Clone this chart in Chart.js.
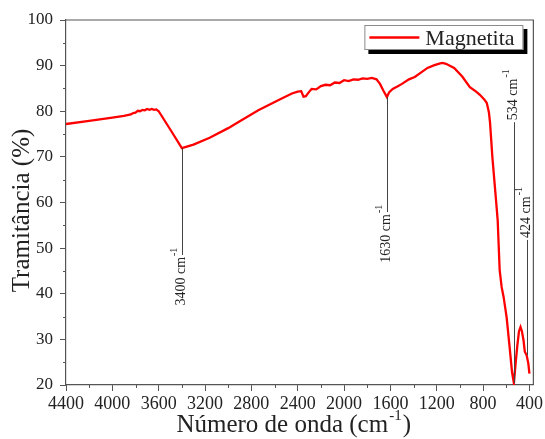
<!DOCTYPE html>
<html>
<head>
<meta charset="utf-8">
<script src="https://cdn.jsdelivr.net/npm/chart.js@4/dist/chart.umd.min.js"></script>
<style>
  html, body { margin: 0; padding: 0; background: #ffffff; }
  #wrap { width: 545px; height: 439px; }
</style>
</head>
<body>
<div id="wrap"><canvas id="ftir" width="545" height="439"></canvas></div>
<script>
// FTIR spectrum of magnetite: wavenumber (cm-1) and transmittance (%)
const wavenumbers = [
  4400, 4200, 4000, 3900, 3860, 3840, 3820, 3800, 3780, 3760, 3740, 3720, 3700, 3680, 3660, 3640, 3620, 3600,
  3500, 3400, 3300, 3160, 3000, 2900, 2740, 2560, 2450, 2400, 2370, 2350, 2330, 2300, 2280, 2240, 2200, 2160,
  2120, 2080, 2040, 2000, 1960, 1920, 1880, 1840, 1800, 1760, 1720, 1690, 1660, 1630, 1610, 1580, 1540, 1500,
  1440, 1390, 1340, 1280, 1220, 1170, 1150, 1120, 1050, 980, 914, 860, 828, 790, 768, 750, 740, 720, 708, 690,
  674, 657, 640, 623, 597, 571, 550, 534, 520, 505, 490, 477, 465, 451, 440, 424, 410, 400
];
const transmittance = [
  77.2, 77.9, 78.6, 79.0, 79.2, 79.3, 79.6, 79.7, 80.1, 80.0, 80.3, 80.2, 80.5, 80.3, 80.5, 80.3, 80.4, 80.0,
  76.0, 71.9, 72.7, 74.2, 76.3, 77.8, 80.2, 82.5, 83.9, 84.3, 84.4, 83.2, 83.3, 84.3, 84.9, 84.8, 85.5, 85.8,
  85.7, 86.3, 86.2, 86.8, 86.6, 87.0, 86.9, 87.2, 87.1, 87.3, 87.0, 86.0, 84.5, 83.1, 84.2, 84.9, 85.4, 86.0,
  87.0, 87.5, 88.4, 89.5, 90.1, 90.5, 90.6, 90.4, 89.5, 87.6, 85.3, 84.3, 83.6, 82.6, 81.8, 79.8, 77.5, 70.0, 66.4, 61.0,
  56.1, 45.2, 41.5, 39.3, 34.9, 28.3, 22.8, 20.4, 24.5, 28.5, 31.8, 32.7, 31.8, 29.8, 27.3, 26.5, 24.8, 22.5
];

// Axis ticks
const xTickValues = [4400, 4000, 3600, 3200, 2800, 2400, 2000, 1600, 1200, 800, 400];
const xTickLabels = ['4400', '4000', '3600', '3200', '2800', '2400', '2000', '1600', '1200', '800', '400'];
const yTickValues = [20, 30, 40, 50, 60, 70, 80, 90, 100];
const yTickLabels = ['20', '30', '40', '50', '60', '70', '80', '90', '100'];

// Marked absorption bands
const bandWavenumbers = [3400, 1630, 534, 424];
const bandTransmittance = [71.9, 83.1, 20.4, 26.5];
const bandLabels = ['3400', '1630', '534', '424'];

const SERIF = "'Liberation Serif', 'Times New Roman', serif";
const AXIS = '#555555';
const INK = '#222222';

// Frame, minor ticks, axis titles, band markers and legend
const decorations = {
  id: 'decorations',
  afterDatasetsDraw(chart, args, opts) {
    const ctx = chart.ctx;
    const a = chart.chartArea;
    const xs = chart.scales.x, ys = chart.scales.y;

    ctx.save();
    // top and right frame lines
    ctx.strokeStyle = AXIS;
    ctx.lineWidth = 1.2;
    ctx.beginPath();
    ctx.moveTo(a.left, a.top); ctx.lineTo(a.right, a.top); ctx.lineTo(a.right, a.bottom);
    ctx.stroke();

    // minor ticks
    ctx.lineWidth = 1;
    ctx.beginPath();
    for (let i = 0; i < xTickValues.length - 1; i++) {
      const v = (xTickValues[i] + xTickValues[i + 1]) / 2;
      const px = Math.round(xs.getPixelForValue(v)) + 0.5;
      ctx.moveTo(px, a.bottom); ctx.lineTo(px, a.bottom + 3);
    }
    for (let i = 0; i < yTickValues.length - 1; i++) {
      const v = (yTickValues[i] + yTickValues[i + 1]) / 2;
      const py = Math.round(ys.getPixelForValue(v)) + 0.5;
      ctx.moveTo(a.left, py); ctx.lineTo(a.left - 3, py);
    }
    ctx.stroke();

    // band markers: thin line from the curve plus rotated label
    bandWavenumbers.forEach((wn, i) => {
      const px = Math.round(xs.getPixelForValue(wn)) + 0.5;
      const y0 = ys.getPixelForValue(bandTransmittance[i]);
      const y1 = ys.getPixelForValue(opts.labelAt[i]);
      ctx.strokeStyle = '#444444';
      ctx.lineWidth = 1;
      ctx.beginPath();
      ctx.moveTo(px, y0); ctx.lineTo(px, y1);
      ctx.stroke();

      ctx.save();
      ctx.translate(px - 1.5, y1);
      ctx.rotate(-Math.PI / 2);
      ctx.fillStyle = INK;
      ctx.textBaseline = 'middle';
      const main = bandLabels[i] + ' cm';
      ctx.font = '14px ' + SERIF;
      const wMain = ctx.measureText(main).width;
      const up = opts.labelAt[i] > bandTransmittance[i];
      const u0 = up ? 2 : -wMain - 2;
      ctx.textAlign = 'left';
      ctx.fillText(main, u0, 0);
      ctx.font = '10px ' + SERIF;
      ctx.fillText('-1', u0 + wMain + 1, -7);
      ctx.restore();
    });

    // x axis title with superscript
    ctx.fillStyle = INK;
    ctx.textBaseline = 'alphabetic';
    ctx.textAlign = 'left';
    const t1 = 'Número de onda (cm', t2 = '-1', t3 = ')';
    ctx.font = '25px ' + SERIF;
    const w1 = ctx.measureText(t1).width, w3 = ctx.measureText(t3).width;
    ctx.font = '15px ' + SERIF;
    const w2 = ctx.measureText(t2).width;
    const cx = (a.left + a.right) / 2 - 6;
    let x0 = cx - (w1 + w2 + w3 + 2) / 2;
    const base = 432;
    ctx.font = '25px ' + SERIF;
    ctx.fillText(t1, x0, base);
    ctx.font = '15px ' + SERIF;
    ctx.fillText(t2, x0 + w1 + 1, base - 12);
    ctx.font = '25px ' + SERIF;
    ctx.fillText(t3, x0 + w1 + w2 + 2, base);

    // y axis title
    ctx.save();
    ctx.translate(22, (a.top + a.bottom) / 2 + 8);
    ctx.rotate(-Math.PI / 2);
    ctx.textAlign = 'center';
    ctx.textBaseline = 'middle';
    ctx.font = '25px ' + SERIF;
    ctx.fillText('Tramitância (%)', 0, 0);
    ctx.restore();

    // legend box with drop shadow
    const bx = a.right - 169, by = a.top + 5, bw = 159, bh = 25;
    ctx.fillStyle = '#000000';
    ctx.fillRect(bx + 4, by + 4, bw, bh);
    ctx.fillStyle = '#ffffff';
    ctx.fillRect(bx, by, bw, bh);
    ctx.strokeStyle = '#8a8a8a';
    ctx.lineWidth = 1;
    ctx.strokeRect(bx + 0.5, by + 0.5, bw - 1, bh - 1);
    ctx.strokeStyle = '#ff0000';
    ctx.lineWidth = 2.5;
    ctx.beginPath();
    ctx.moveTo(bx + 5, by + 12.5); ctx.lineTo(bx + 55, by + 12.5);
    ctx.stroke();
    ctx.fillStyle = INK;
    ctx.font = '22px ' + SERIF;
    ctx.textAlign = 'left';
    ctx.textBaseline = 'alphabetic';
    ctx.fillText(chart.data.datasets[0].label, bx + 61, by + 20);

    ctx.restore();
  }
};

new Chart(document.getElementById('ftir'), {
  type: 'line',
  data: {
    datasets: [{
      label: 'Magnetita',
      data: wavenumbers.map((w, i) => ({ x: w, y: transmittance[i] })),
      borderColor: '#ff0000',
      borderWidth: 2.3,
      pointRadius: 0,
      tension: 0,
      fill: false
    }]
  },
  options: {
    responsive: false,
    animation: false,
    devicePixelRatio: 1,
    layout: { autoPadding: false, padding: { top: 20, right: 8, left: 0, bottom: 0 } },
    plugins: {
      legend: { display: false },
      tooltip: { enabled: false },
      decorations: { labelAt: [48.5, 57.9, 77.6, 51.8] }
    },
    scales: {
      x: {
        type: 'linear',
        reverse: true,
        min: 366,
        max: 4400,
        afterBuildTicks: s => { s.ticks = xTickValues.map(v => ({ value: v })); },
        afterFit: s => { s.height = 54; },
        grid: { drawOnChartArea: false, tickLength: 6, color: AXIS, tickColor: AXIS },
        border: { color: AXIS, width: 1.2 },
        ticks: {
          autoSkip: false, maxRotation: 0, padding: 2, color: INK,
          font: { family: SERIF, size: 18 },
          callback: (v, i) => xTickLabels[i]
        }
      },
      y: {
        min: 20,
        max: 100,
        afterBuildTicks: s => { s.ticks = yTickValues.map(v => ({ value: v })); },
        afterFit: s => { s.width = 66; },
        grid: { drawOnChartArea: false, tickLength: 6, color: AXIS, tickColor: AXIS },
        border: { color: AXIS, width: 1.2 },
        ticks: {
          autoSkip: false, padding: 7, color: INK,
          font: { family: SERIF, size: 17 },
          callback: (v, i) => yTickLabels[i]
        }
      }
    }
  },
  plugins: [decorations]
});
</script>
</body>
</html>
